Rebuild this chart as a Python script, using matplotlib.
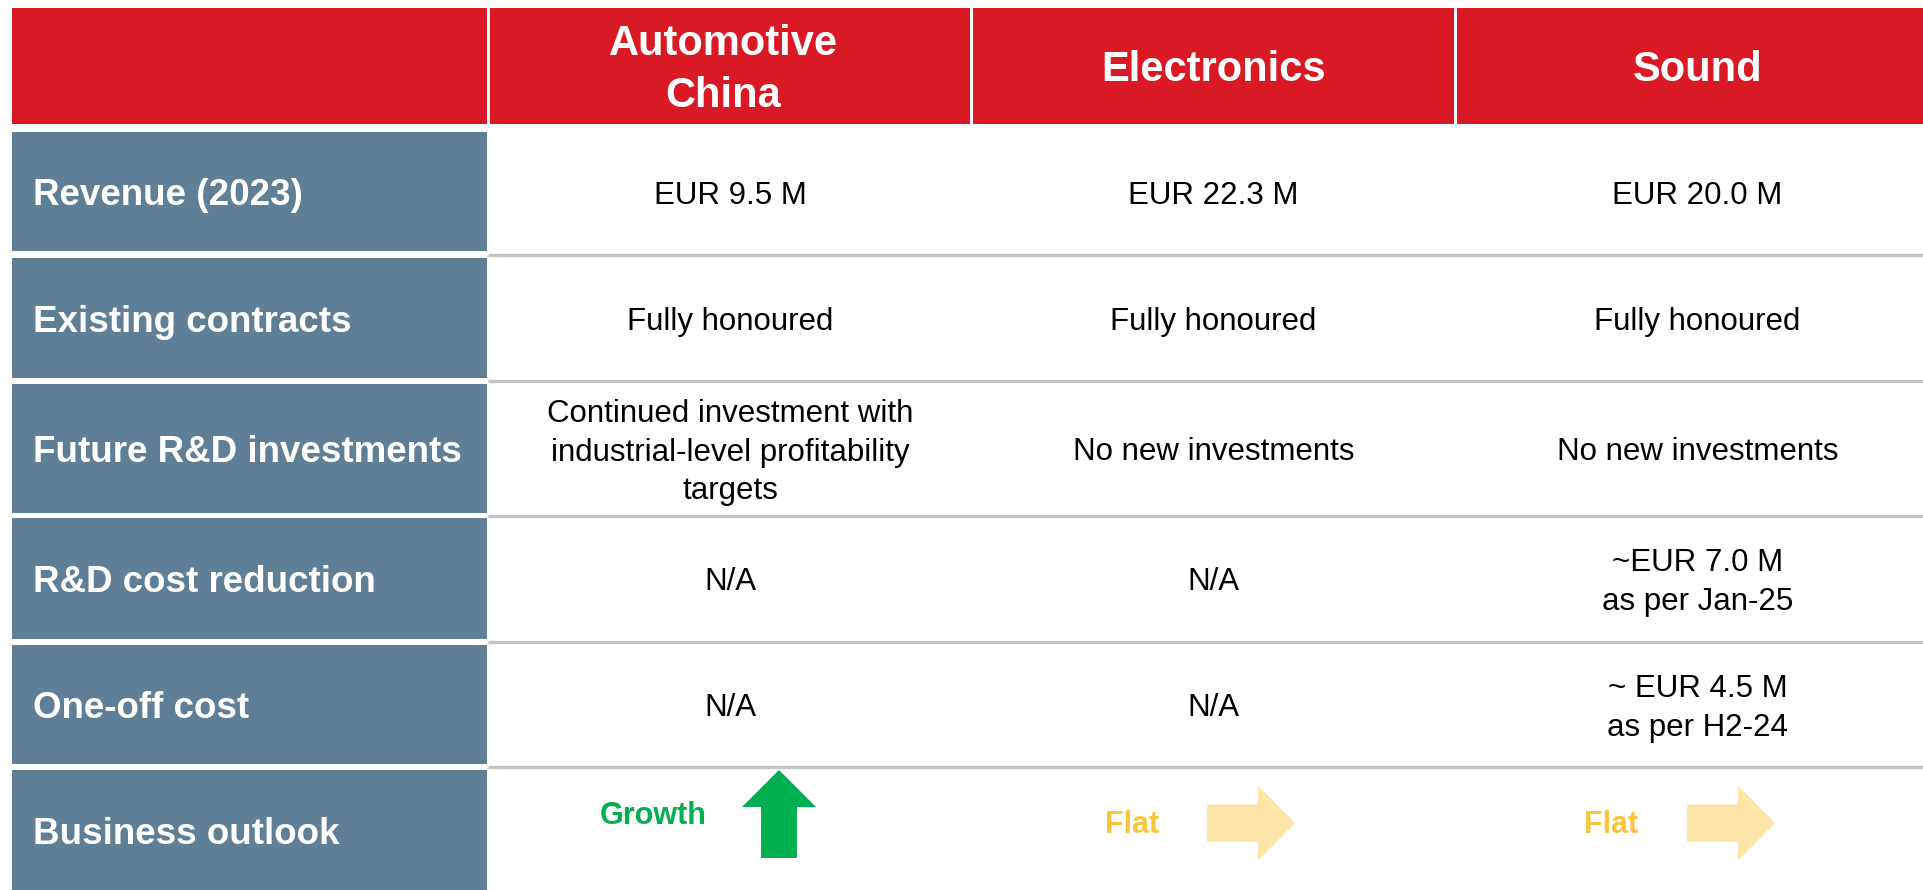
import matplotlib.pyplot as plt
import matplotlib.patches as mpatches

plt.rcParams['font.family'] = ['Liberation Sans', 'DejaVu Sans']

# table content
columns = ['Automotive\nChina', 'Electronics', 'Sound']
row_labels = ['Revenue (2023)', 'Existing contracts', 'Future R&D investments',
              'R&D cost reduction', 'One-off cost', 'Business outlook']
revenue = ['EUR 9.5 M', 'EUR 22.3 M', 'EUR 20.0 M']
contracts = ['Fully honoured', 'Fully honoured', 'Fully honoured']
rd_invest = ['Continued investment with\nindustrial-level profitability\ntargets',
             'No new investments', 'No new investments']
rd_cost = ['N/A', 'N/A', '~EUR 7.0 M\nas per Jan-25']
one_off = ['N/A', 'N/A', '~ EUR 4.5 M\nas per H2-24']
outlook = ['Growth', 'Flat', 'Flat']
outlook_dir = ['up', 'right', 'right']

RED = '#D91A24'
BLUE = '#5E7F96'
GRID = '#C4C4C4'

W, H = 1923, 890
fig = plt.figure(figsize=(W / 100, H / 100), dpi=100)
ax = fig.add_axes([0, 0, 1, 1])
ax.set_xlim(0, W)
ax.set_ylim(H, 0)
ax.axis('off')

# column edges (pixels); last column runs past the right edge
label_x = (12, 487)
col_x = [(490, 970), (973, 1454), (1457, 1938)]
header_y = (8, 124)
head_shift = [-7, 0, 0]
row_y = [(132, 251), (258, 378), (384, 513), (518, 639), (645, 764), (770, 890)]

def rect(x0, x1, y0, y1, color):
    ax.add_patch(mpatches.Rectangle((x0, y0), x1 - x0, y1 - y0, color=color, lw=0))

# header
rect(label_x[0], label_x[1], header_y[0], header_y[1], RED)
for (x0, x1), name, dx in zip(col_x, columns, head_shift):
    rect(x0, x1, header_y[0], header_y[1], RED)
    ax.text((x0 + x1) / 2 + dx, (header_y[0] + header_y[1]) / 2 + 4, name,
            color='white', fontsize=30, fontweight='bold',
            ha='center', va='center', linespacing=1.36)

# row labels
for (y0, y1), lab in zip(row_y, row_labels):
    rect(label_x[0], label_x[1], y0, y1, BLUE)
    ax.text(33, (y0 + y1) / 2 + 4, lab, color='white', fontsize=26.5,
            fontweight='bold', ha='left', va='center')

# separator lines under data rows
for (y0, y1), (n0, n1) in zip(row_y[:-1], row_y[1:]):
    yl = (y1 + n0) / 2
    ax.plot([488, W], [yl, yl], color=GRID, lw=2.4, solid_capstyle='butt')

# body cells
body = [revenue, contracts, rd_invest, rd_cost, one_off]
for (y0, y1), vals in zip(row_y[:5], body):
    for (x0, x1), v in zip(col_x, vals):
        ax.text((x0 + x1) / 2, (y0 + y1) / 2 + 4, v, color='black', fontsize=22.5,
                ha='center', va='center', linespacing=1.38)

# outlook row
txt_colors = {'up': '#00B050', 'right': '#F9C43E'}
arr_colors = {'up': '#00B050', 'right': '#FCE4A6'}
text_x = [653, 1132, 1611]
arrow_x = [779, 1207, 1687]
for tx, axx, lab, d in zip(text_x, arrow_x, outlook, outlook_dir):
    if d == 'up':
        ax.text(tx, 816, lab, color=txt_colors[d], fontsize=22, fontweight='bold',
                ha='center', va='center')
        ax.add_patch(mpatches.FancyArrow(axx, 858, 0, -88, width=36, head_width=74,
                                         head_length=37, length_includes_head=True,
                                         color=arr_colors[d], lw=0))
    else:
        ax.text(tx, 825, lab, color=txt_colors[d], fontsize=22, fontweight='bold',
                ha='center', va='center')
        ax.add_patch(mpatches.FancyArrow(axx, 823, 88, 0, width=37, head_width=75,
                                         head_length=37, length_includes_head=True,
                                         color=arr_colors[d], lw=0))

fig.savefig('out.png', dpi=100)
